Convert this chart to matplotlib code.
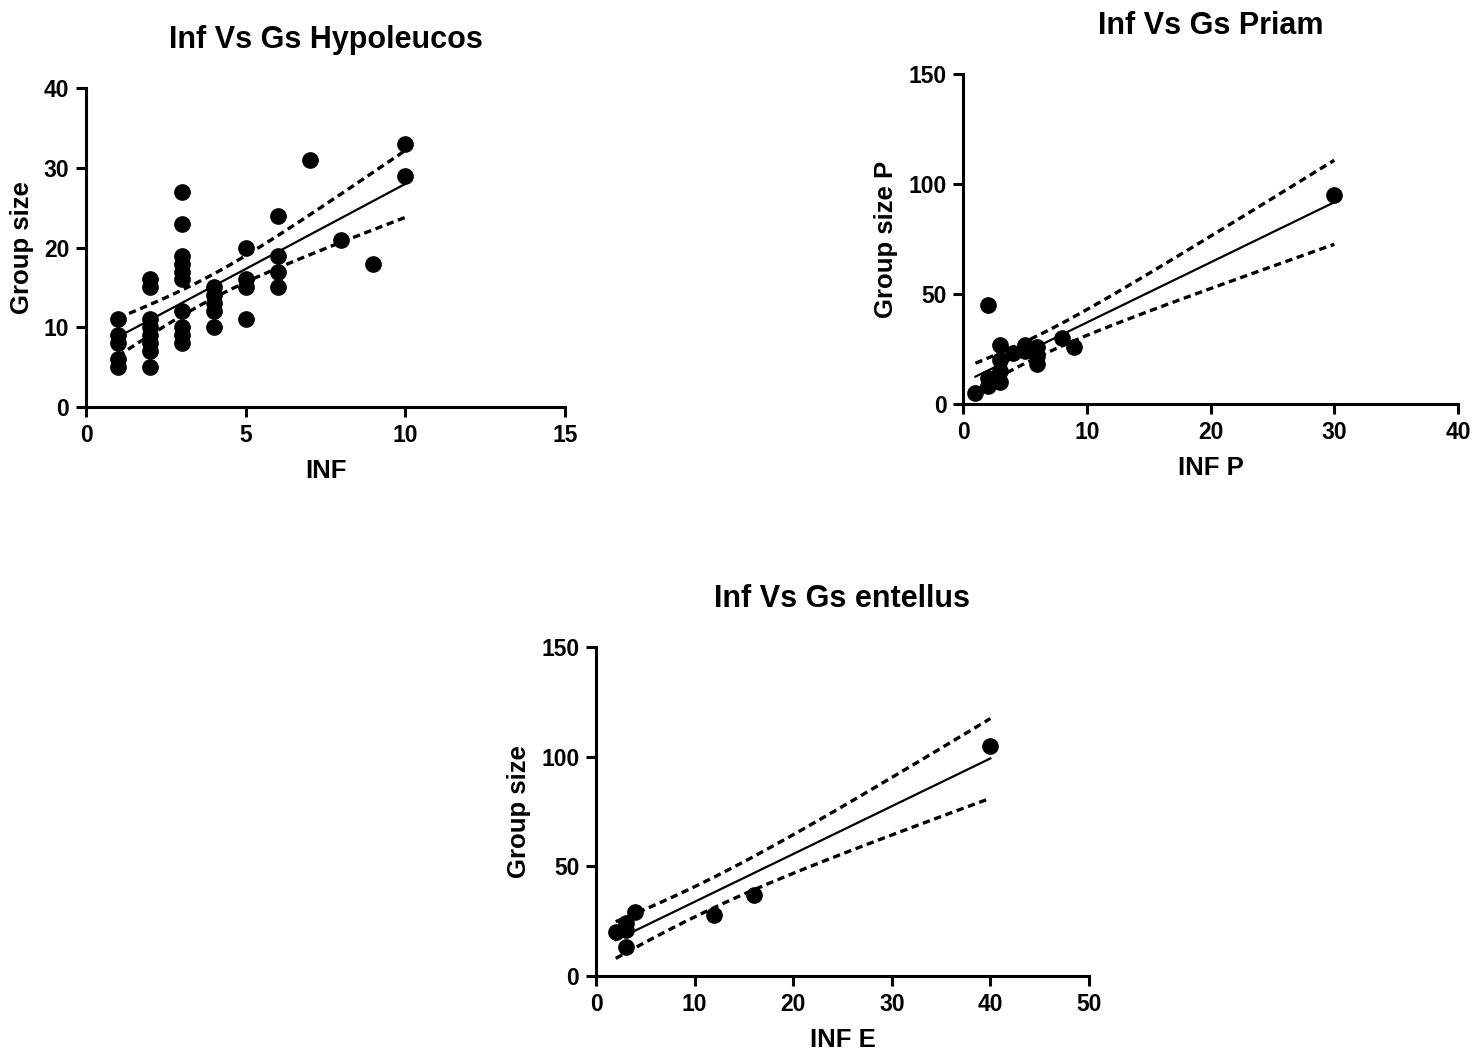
import numpy as np
import matplotlib
matplotlib.use("Agg")
import matplotlib.pyplot as plt

plt.rcParams['font.family'] = ['Liberation Sans', 'DejaVu Sans']
plt.rcParams['font.weight'] = 'bold'

# Hypoleucos: infants vs group size
inf_h = [1, 1, 1, 1, 1,
         2, 2, 2, 2, 2, 2, 2, 2,
         3, 3, 3, 3, 3, 3, 3, 3, 3, 3,
         4, 4, 4, 4, 4,
         5, 5, 5, 5,
         6, 6, 6, 6,
         7, 8, 9, 10, 10]
gs_h = [11, 9, 8, 6, 5,
        16, 15, 11, 10, 9, 8, 7, 5,
        27, 23, 19, 18, 17, 16, 12, 10, 9, 8,
        15, 14, 13, 12, 10,
        20, 16, 15, 11,
        24, 19, 17, 15,
        31, 21, 18, 33, 29]

# Priam
inf_p = [1, 2, 2, 2, 3, 3, 3, 3, 4, 5, 5, 6, 6, 6, 8, 9, 30]
gs_p = [5, 45, 8, 12, 27, 20, 15, 10, 23, 27, 24, 26, 22, 18, 30, 26, 95]

# Entellus
inf_e = [2, 3, 3, 3, 4, 12, 16, 40]
gs_e = [20, 24, 21, 13, 29, 28, 37, 105]

# two-sided 95% t critical values by degrees of freedom
T95 = {5: 2.571, 6: 2.447, 7: 2.365, 8: 2.306, 9: 2.262, 10: 2.228,
       14: 2.145, 15: 2.131, 16: 2.120, 17: 2.110, 18: 2.101,
       39: 2.023, 40: 2.021}


def fit_with_ci(x, y):
    x = np.asarray(x, float)
    y = np.asarray(y, float)
    n = len(x)
    slope, icpt = np.polyfit(x, y, 1)
    resid = y - (slope * x + icpt)
    s = np.sqrt(np.sum(resid ** 2) / (n - 2))
    xs = np.linspace(x.min(), x.max(), 100)
    ys = slope * xs + icpt
    se = s * np.sqrt(1.0 / n + (xs - x.mean()) ** 2 / np.sum((x - x.mean()) ** 2))
    t = T95[n - 2]
    return xs, ys, ys - t * se, ys + t * se


def panel(ax, x, y, title, xlabel, ylabel, xlim, xticks, ylim, yticks):
    xs, ys, lo, hi = fit_with_ci(x, y)
    ax.plot(x, y, 'o', color='black', markersize=11, zorder=3)
    ax.plot(xs, ys, '-', color='black', lw=1.6)
    ax.plot(xs, lo, '--', color='black', lw=2.4, dashes=(2.2, 1.4))
    ax.plot(xs, hi, '--', color='black', lw=2.4, dashes=(2.2, 1.4))
    ax.set_xlim(xlim)
    ax.set_ylim(ylim)
    ax.set_xticks(xticks)
    ax.set_yticks(yticks)
    for side in ['top', 'right']:
        ax.spines[side].set_visible(False)
    for side in ['left', 'bottom']:
        ax.spines[side].set_linewidth(2.2)
    ax.tick_params(width=2.2, length=7, labelsize=16.5, pad=5)
    for lab in ax.get_xticklabels() + ax.get_yticklabels():
        lab.set_fontweight('bold')
    ax.set_title(title, fontsize=22, fontweight='bold', pad=29)
    ax.set_xlabel(xlabel, fontsize=18.5, fontweight='bold', labelpad=9)
    ax.set_ylabel(ylabel, fontsize=18.5, fontweight='bold', labelpad=7)


fig = plt.figure(figsize=(14.83, 10.59), dpi=100)
ax1 = fig.add_axes([0.058, 0.6157, 0.323, 0.301])
ax2 = fig.add_axes([0.6494, 0.6185, 0.3338, 0.3116])
ax3 = fig.add_axes([0.4019, 0.0784, 0.3324, 0.3107])

panel(ax1, inf_h, gs_h, "Inf Vs Gs Hypoleucos", "INF", "Group size",
      (0, 15), [0, 5, 10, 15], (0, 40), [0, 10, 20, 30, 40])
panel(ax2, inf_p, gs_p, "Inf Vs Gs Priam", "INF P", "Group size P",
      (0, 40), [0, 10, 20, 30, 40], (0, 150), [0, 50, 100, 150])
panel(ax3, inf_e, gs_e, "Inf Vs Gs entellus", "INF E", "Group size",
      (0, 50), [0, 10, 20, 30, 40, 50], (0, 150), [0, 50, 100, 150])

fig.savefig("out.png", dpi=100)
